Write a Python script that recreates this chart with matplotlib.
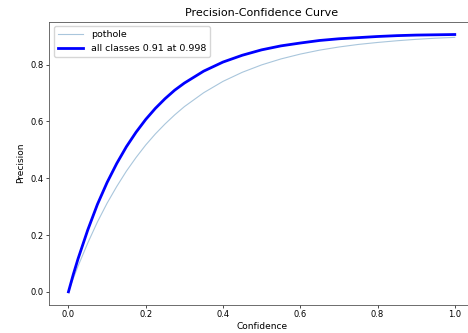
import matplotlib
matplotlib.use("Agg")
import matplotlib.pyplot as plt

conf = [0.0, 0.0125, 0.025, 0.05, 0.075, 0.1, 0.125, 0.15, 0.175, 0.2, 0.225, 0.25, 0.275,
        0.3, 0.35, 0.4, 0.45, 0.5, 0.55, 0.6, 0.65, 0.7, 0.75, 0.8, 0.85, 0.9, 0.95, 1.0]
pothole = [0.0, 0.047, 0.091, 0.172, 0.246, 0.312, 0.371, 0.425, 0.473, 0.517, 0.556, 0.591, 0.623,
           0.652, 0.701, 0.741, 0.773, 0.799, 0.820, 0.837, 0.851, 0.862, 0.871, 0.878,
           0.884, 0.889, 0.893, 0.896]
all_classes = [0.0, 0.061, 0.117, 0.218, 0.308, 0.385, 0.452, 0.511, 0.562, 0.607, 0.646, 0.680, 0.710,
               0.735, 0.777, 0.809, 0.833, 0.852, 0.866, 0.876, 0.885, 0.891, 0.895, 0.899,
               0.902, 0.904, 0.905, 0.906]

fig = plt.figure(figsize=(4.68, 3.33), dpi=100)
ax = fig.add_axes([0.105, 0.085, 0.908, 0.85])

ax.plot(conf, pothole, linewidth=0.8, color="#a9c6dc", label="pothole")
ax.plot(conf, all_classes, linewidth=2, color="blue", label="all classes 0.91 at 0.998")

ax.set_xlabel("Confidence", fontsize=6.5, labelpad=2)
ax.set_ylabel("Precision", fontsize=6.5, labelpad=4)
ax.set_title("Precision-Confidence Curve", fontsize=8, pad=4)
ax.tick_params(labelsize=6, length=2, width=0.5, pad=2)
for s in ax.spines.values():
    s.set_linewidth(0.6)
    s.set_color("#555555")
ax.legend(loc="upper left", fontsize=6.8, handlelength=2.7, frameon=True)

fig.savefig("out.png", dpi=100)
